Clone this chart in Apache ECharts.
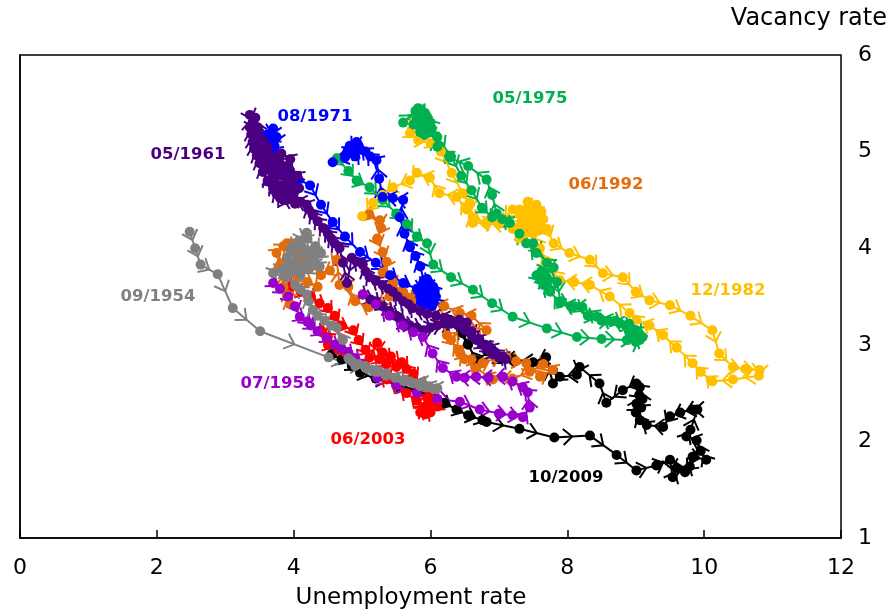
<!DOCTYPE html>
<html>
<head>
<meta charset="utf-8">
<script src="https://cdn.jsdelivr.net/npm/echarts@6/dist/echarts.min.js"></script>
<style>html,body{margin:0;padding:0;background:#fff}#c{width:889px;height:615px}</style>
</head>
<body>
<div id="c"></div>
<script>
// ---- Data: [unemployment rate, vacancy rate] ----
var xTicks = [0, 2, 4, 6, 8, 10, 12];
var yTicks = [1, 2, 3, 4, 5, 6];

var gray1954 = [[2.48,4.17],[2.56,4.0],[2.64,3.83],[2.89,3.73],[3.11,3.38],[3.51,3.14],[4.51,2.87],[4.9,2.78],[5.05,2.76],[5.2,2.72],[5.35,2.68],[5.5,2.66],[5.62,2.62],[5.75,2.6],[5.85,2.57],[5.95,2.56],[6.05,2.54],[6.1,2.55],[5.98,2.57],[5.88,2.6],[5.8,2.6],[5.7,2.62],[5.6,2.63],[5.48,2.66],[5.35,2.7],[5.25,2.72],[5.15,2.74],[5.05,2.78],[4.95,2.8],[4.85,2.83],[4.8,2.86],[4.72,3.05],[4.63,3.18],[4.55,3.2],[4.45,3.25],[4.35,3.3],[4.28,3.36],[4.22,3.45],[4.19,3.52],[4.1,3.57],[4.02,3.62],[3.9,3.7],[3.7,3.74],[3.82,3.78],[3.9,3.8],[4.05,3.92],[3.98,4.02],[4.19,4.16],[4.1,4.02],[4.3,4.0],[4.38,3.81],[4.25,3.88],[4.15,3.85],[4.05,3.8],[3.95,3.98],[4.08,4.08],[4.2,4.1],[4.32,4.02],[4.4,3.95],[4.28,3.85],[4.15,3.78],[4.0,3.84],[3.9,3.9],[3.96,3.75],[4.05,4.05],[4.18,3.96],[4.3,3.9],[4.22,3.78],[4.1,3.72]];

var violet1958 = [[3.7,3.64],[3.8,3.58],[3.92,3.5],[4.02,3.4],[4.09,3.29],[4.2,3.24],[4.25,3.2],[4.35,3.14],[4.48,3.07],[4.6,3.0],[4.7,2.96],[4.8,2.92],[4.9,2.86],[5.0,2.8],[5.22,2.66],[5.5,2.58],[5.8,2.5],[6.1,2.44],[6.43,2.41],[6.72,2.33],[7.0,2.29],[7.2,2.27],[7.35,2.25],[7.45,2.35],[7.42,2.51],[7.35,2.56],[7.2,2.62],[7.06,2.67],[6.85,2.66],[6.67,2.67],[6.5,2.66],[6.38,2.67],[6.18,2.76],[6.03,2.91],[5.89,3.08],[5.75,3.13],[5.6,3.2],[5.4,3.3],[5.2,3.42],[5.01,3.52]];

var purple1961 = [[5.01,3.52],[5.12,3.47],[5.2,3.45],[5.3,3.4],[5.4,3.35],[5.5,3.3],[5.55,3.28],[5.62,3.22],[5.7,3.2],[5.8,3.18],[5.9,3.15],[6.0,3.18],[6.1,3.2],[6.2,3.22],[6.3,3.25],[6.42,3.26],[6.53,3.23],[6.6,3.14],[6.67,3.05],[6.75,3.0],[6.85,2.95],[6.92,2.9],[7.0,2.87],[7.1,2.85],[7.05,2.88],[6.95,2.92],[6.88,2.97],[6.8,3.0],[6.7,3.06],[6.6,3.1],[6.5,3.15],[6.4,3.2],[6.3,3.22],[6.2,3.28],[6.08,3.3],[5.95,3.32],[5.85,3.35],[5.74,3.38],[5.68,3.42],[5.6,3.45],[5.52,3.5],[5.45,3.55],[5.38,3.58],[5.3,3.62],[5.2,3.66],[5.11,3.7],[5.05,3.76],[5.01,3.83],[4.92,3.86],[4.85,3.9],[4.78,3.64],[4.72,3.85],[4.67,4.0],[4.6,4.05],[4.55,4.1],[4.5,4.15],[4.43,4.21],[4.35,4.28],[4.28,4.34],[4.22,4.4],[4.19,4.45],[4.1,4.48],[4.0,4.5],[3.9,4.5],[3.8,4.52],[3.75,4.56],[3.7,4.62],[3.62,4.7],[3.55,4.79],[3.5,4.88],[3.46,4.96],[3.42,5.03],[3.4,5.1],[3.38,5.18],[3.36,5.25],[3.36,5.38],[3.4,5.3],[3.45,5.2],[3.5,5.05],[3.55,4.98],[3.6,4.9],[3.68,4.86],[3.75,4.8],[3.82,4.75],[3.9,4.7],[3.96,4.65],[4.0,4.58],[3.92,4.62],[3.85,4.85],[3.78,4.9],[3.7,4.95],[3.62,5.05],[3.55,5.12],[3.5,5.15],[3.6,5.0],[3.7,4.75],[3.82,4.6],[3.9,4.55],[3.98,4.7],[4.05,4.75],[3.95,4.8],[3.8,4.65],[3.72,4.72],[3.65,4.85],[3.58,4.92],[3.66,4.68],[3.75,4.6],[3.85,4.5],[4.02,4.46],[4.08,4.62],[3.95,4.92],[3.82,4.98],[3.48,5.25],[3.44,5.35]];

var blue1971 = [[3.55,5.1],[3.62,5.18],[3.7,5.24],[3.66,5.12],[3.6,5.05],[3.68,5.0],[3.75,5.15],[3.72,5.06],[3.65,5.0],[3.78,4.9],[3.9,4.8],[4.05,4.72],[4.24,4.65],[4.4,4.45],[4.57,4.27],[4.75,4.12],[4.97,3.96],[5.2,3.85],[5.41,3.72],[5.6,3.64],[5.8,3.58],[5.95,3.55],[6.0,3.48],[5.88,3.6],[6.05,3.44],[5.85,3.5],[6.0,3.62],[5.92,3.42],[6.06,3.55],[5.95,3.68],[5.9,3.52],[6.02,3.4],[5.96,3.58],[5.86,3.44],[6.08,3.5],[5.98,3.46],[5.9,3.66],[6.04,3.6],[5.82,3.56],[5.94,3.5],[6.0,3.55],[5.92,3.62],[5.85,3.81],[5.78,3.92],[5.7,4.01],[5.62,4.15],[5.55,4.32],[5.6,4.5],[5.45,4.52],[5.3,4.53],[5.25,4.72],[5.21,4.91],[5.12,4.95],[5.05,5.0],[4.95,5.06],[4.86,5.04],[4.92,5.1],[4.78,4.98],[4.82,5.06],[4.9,4.95],[4.98,5.02],[4.86,4.98],[4.75,4.94],[4.57,4.89]];

var green1975 = [[4.63,4.93],[4.8,4.8],[4.92,4.7],[5.11,4.63],[5.3,4.5],[5.5,4.36],[5.65,4.25],[5.8,4.12],[5.95,4.05],[6.04,3.83],[6.3,3.7],[6.62,3.57],[6.9,3.43],[7.2,3.29],[7.7,3.17],[8.14,3.08],[8.5,3.06],[8.87,3.05],[9.0,3.03],[9.06,3.05],[8.95,3.1],[8.9,3.15],[8.77,3.22],[8.6,3.25],[8.43,3.29],[8.22,3.39],[8.05,3.4],[7.89,3.43],[7.75,3.55],[7.6,3.67],[7.7,3.7],[7.55,3.72],[7.65,3.62],[7.72,3.66],[7.62,3.76],[7.8,3.8],[7.55,3.95],[7.4,4.05],[7.16,4.26],[6.97,4.36],[6.9,4.55],[6.82,4.71],[6.55,4.85],[6.28,4.94],[6.1,5.05],[6.0,5.2],[5.85,5.3],[5.78,5.42],[5.9,5.25],[5.6,5.3],[5.82,5.45],[6.0,5.3],[5.95,5.36],[5.85,5.2],[5.75,5.28],[5.92,5.4],[5.8,5.34],[6.02,5.24],[5.9,5.18],[6.1,5.15],[6.3,4.95],[6.45,4.75],[6.6,4.6],[6.75,4.42],[6.9,4.32],[7.05,4.3],[7.3,4.15],[7.5,4.05],[7.7,3.85],[7.85,3.65],[7.9,3.45],[8.1,3.4],[8.3,3.3],[8.5,3.25],[8.7,3.25],[8.85,3.2],[9.0,3.15],[8.9,3.22],[9.05,3.12],[9.1,3.08]];

var gold1982 = [[5.75,5.3],[5.9,5.25],[5.7,5.19],[5.82,5.12],[6.0,5.09],[6.15,5.0],[6.31,4.78],[6.47,4.57],[6.57,4.47],[6.62,4.32],[6.82,4.26],[7.0,4.3],[7.2,4.2],[7.35,4.3],[7.5,4.15],[7.4,4.4],[7.6,4.25],[7.3,4.1],[7.55,4.45],[7.45,4.35],[7.62,4.38],[7.35,4.22],[7.5,4.28],[7.42,4.48],[7.58,4.18],[7.3,4.4],[7.48,4.2],[7.65,4.3],[7.38,4.15],[7.52,4.4],[7.7,4.2],[7.8,4.05],[8.03,3.95],[8.33,3.88],[8.52,3.74],[8.81,3.7],[9.0,3.55],[9.2,3.46],[9.5,3.41],[9.8,3.3],[10.12,3.15],[10.22,2.91],[10.42,2.77],[10.6,2.75],[10.81,2.74],[10.8,2.68],[10.42,2.64],[10.12,2.62],[9.95,2.72],[9.83,2.81],[9.6,2.97],[9.4,3.1],[9.2,3.2],[9.01,3.26],[8.91,3.33],[8.62,3.5],[8.33,3.62],[8.1,3.65],[7.89,3.67],[7.7,3.85],[7.6,4.0],[7.45,4.2],[7.3,4.35],[7.5,4.3],[7.2,4.4],[7.0,4.25],[6.82,4.26],[6.62,4.26],[6.53,4.4],[6.38,4.53],[6.13,4.57],[5.99,4.73],[5.8,4.78],[5.7,4.7],[5.45,4.63],[5.3,4.55],[5.16,4.47],[5.0,4.33]];

var orange1992 = [[5.1,4.35],[5.26,4.29],[5.28,4.21],[5.22,4.1],[5.3,3.96],[5.36,3.86],[5.3,3.75],[5.45,3.65],[5.55,3.55],[5.7,3.48],[5.85,3.42],[6.0,3.35],[6.15,3.25],[6.24,3.1],[6.43,2.91],[6.6,2.85],[6.76,2.81],[6.95,2.86],[7.11,2.87],[7.25,2.83],[7.4,2.81],[7.6,2.67],[7.79,2.74],[7.65,2.8],[7.45,2.72],[7.2,2.65],[6.91,2.64],[6.67,2.76],[6.5,2.85],[6.4,2.95],[6.3,3.05],[6.5,3.2],[6.82,3.15],[6.6,3.3],[6.43,3.33],[6.2,3.4],[6.0,3.45],[5.8,3.5],[5.6,3.55],[5.4,3.5],[5.1,3.39],[4.9,3.45],[4.8,3.6],[4.67,3.62],[4.63,3.88],[4.53,3.77],[4.4,3.72],[4.3,3.82],[4.2,3.9],[4.05,3.7],[3.94,3.43],[3.9,3.52],[3.85,3.6],[3.8,3.8],[3.75,3.95],[3.85,4.02],[3.9,4.05],[4.1,3.95],[4.0,3.75],[3.85,3.85],[4.2,3.65],[4.35,3.6]];

var red2003 = [[3.95,3.6],[4.1,3.55],[4.25,3.5],[4.38,3.43],[4.5,3.38],[4.6,3.3],[4.7,3.2],[4.87,3.15],[4.95,3.05],[5.05,2.95],[5.11,2.87],[5.22,3.02],[5.25,2.85],[5.36,2.8],[5.3,2.92],[5.5,2.77],[5.42,2.88],[5.65,2.75],[5.58,2.82],[5.75,2.7],[5.85,2.6],[5.99,2.5],[6.05,2.42],[6.09,2.36],[6.0,2.3],[5.9,2.35],[5.95,2.45],[6.1,2.4],[5.85,2.3],[6.02,2.38],[5.92,2.28],[5.8,2.42],[5.65,2.5],[5.5,2.58],[5.36,2.64],[5.2,2.72],[5.05,2.8],[4.9,2.85],[4.75,2.92],[4.6,3.0],[4.5,3.08],[4.4,3.15],[4.5,3.0],[4.65,2.95]];

var black2009 = [[4.55,2.9],[4.7,2.85],[4.85,2.78],[4.97,2.71],[5.2,2.65],[5.5,2.6],[5.8,2.52],[6.0,2.47],[6.2,2.4],[6.38,2.33],[6.55,2.27],[6.76,2.22],[6.82,2.2],[7.3,2.13],[7.81,2.04],[8.33,2.06],[8.72,1.86],[9.01,1.7],[9.3,1.75],[9.5,1.81],[9.54,1.63],[9.6,1.72],[9.79,1.74],[9.72,1.68],[9.83,1.84],[10.03,1.81],[9.95,1.9],[9.89,2.01],[9.74,2.05],[9.8,2.12],[9.9,2.33],[9.83,2.33],[9.65,2.3],[9.5,2.26],[9.4,2.15],[9.16,2.17],[9.06,2.22],[9.0,2.3],[9.08,2.35],[9.01,2.39],[9.05,2.48],[9.1,2.44],[9.06,2.56],[9.01,2.6],[8.81,2.53],[8.57,2.4],[8.47,2.6],[8.18,2.77],[8.14,2.69],[7.89,2.67],[7.79,2.6],[7.69,2.87],[7.5,2.82],[7.2,2.85],[7.0,2.85],[6.9,2.95],[6.67,2.84],[6.55,3.0],[6.47,3.12],[6.3,3.22],[6.28,3.26]];

// episodes: label, colour, data, label position (px)
var episodes = [
  {name:'10/2009', color:'#000000', data:black2009, lx:566, ly:478},
  {name:'06/2003', color:'#FF0000', data:red2003, lx:368, ly:440},
  {name:'06/1992', color:'#E46C0A', data:orange1992, lx:606, ly:185},
  {name:'12/1982', color:'#FFC000', data:gold1982, lx:728, ly:291},
  {name:'05/1975', color:'#00B050', data:green1975, lx:530, ly:99},
  {name:'08/1971', color:'#0000FF', data:blue1971, lx:315, ly:117},
  {name:'05/1961', color:'#4B0082', data:purple1961, lx:188, ly:155},
  {name:'07/1958', color:'#9900CC', data:violet1958, lx:278, ly:384},
  {name:'09/1954', color:'#808080', data:gray1954, lx:158, ly:297}
];

function segments(d){
  var out = [];
  for (var i = 0; i < d.length - 1; i++) out.push([d[i][0], d[i][1], d[i+1][0], d[i+1][1]]);
  return out;
}

function arrowRenderer(color){
  return function(params, api){
    var p1 = api.coord([api.value(0), api.value(1)]);
    var p2 = api.coord([api.value(2), api.value(3)]);
    var mx = (p1[0] + p2[0]) / 2, my = (p1[1] + p2[1]) / 2;
    var a = Math.atan2(p2[1] - p1[1], p2[0] - p1[0]);
    var L = 12, th = Math.PI / 4.3;
    var w1 = [mx - L * Math.cos(a - th), my - L * Math.sin(a - th)];
    var w2 = [mx - L * Math.cos(a + th), my - L * Math.sin(a + th)];
    return {type:'polyline', shape:{points:[w1, [mx, my], w2]},
      style:{stroke:color, lineWidth:2, fill:null}};
  };
}

var series = [];
var graphics = [];
episodes.forEach(function(e){
  series.push({type:'line', name:e.name, data:e.data, symbol:'circle', symbolSize:10,
    showSymbol:true, itemStyle:{color:e.color}, lineStyle:{color:e.color, width:2},
    animation:false, silent:true, clip:true});
  series.push({type:'custom', name:e.name + ' arrows', data:segments(e.data),
    renderItem:arrowRenderer(e.color), encode:{x:[0,2], y:[1,3]}, animation:false, silent:true});
  graphics.push({type:'text', x:e.lx, y:e.ly, z:100,
    style:{text:e.name, fill:e.color, font:'bold 16.5px "DejaVu Sans"', align:'center', verticalAlign:'middle'}});
});
graphics.push({type:'text', x:887, y:19, style:{text:'Vacancy rate', fill:'#000', font:'24px "DejaVu Sans"', align:'right', verticalAlign:'middle'}});
graphics.push({type:'text', x:411, y:598, style:{text:'Unemployment rate', fill:'#000', font:'23px "DejaVu Sans"', align:'center', verticalAlign:'middle'}});

var chart = echarts.init(document.getElementById('c'), null, {renderer:'canvas'});
chart.setOption({
  backgroundColor:'#fff',
  animation:false,
  grid:{left:20, right:48, top:55, bottom:77, show:true, borderColor:'#000', borderWidth:1.5, backgroundColor:'transparent'},
  xAxis:{type:'value', min:xTicks[0], max:xTicks[xTicks.length-1], interval:2,
    axisLine:{show:true, lineStyle:{color:'#000', width:1.5}},
    axisTick:{show:true, inside:true, length:8, lineStyle:{color:'#000', width:1.5}},
    axisLabel:{fontFamily:'DejaVu Sans', fontSize:22, color:'#000', margin:19},
    splitLine:{show:false}},
  yAxis:{type:'value', position:'right', min:yTicks[0], max:yTicks[yTicks.length-1], interval:1,
    axisLine:{show:true, lineStyle:{color:'#000', width:1.5}},
    axisTick:{show:false},
    axisLabel:{fontFamily:'DejaVu Sans', fontSize:22, color:'#000', margin:17},
    splitLine:{show:false}},
  graphic:graphics,
  series:series
});
</script>
</body>
</html>
